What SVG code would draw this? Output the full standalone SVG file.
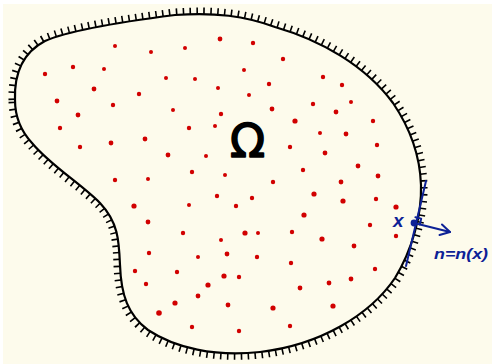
<svg xmlns="http://www.w3.org/2000/svg" width="492" height="364" viewBox="0 0 492 364">
<style>
.pt{fill:#d10000}
.blue{stroke:#0d2196;fill:none;stroke-width:2;stroke-linecap:round;stroke-linejoin:round}
</style>
<defs>
<path id="bd" d="M 15,100 C 14,72 24,52 45,41 C 70,30 120,22 175,15 C 215,12 245,16 275,27 C 320,40 365,65 393,103 C 410,128 420,155 421,185 C 422,215 412,250 395,278 C 370,315 320,345 260,352 C 215,357 175,348 148,330 C 128,315 121,295 120,265 C 119,240 118,222 100,203 C 80,183 50,165 32,143 C 20,130 15,115 15,100 Z"/>
</defs>
<rect x="0" y="0" width="492" height="364" fill="#ffffff"/>
<rect x="3" y="4" width="489" height="360" fill="#fdfbec"/>
<g id="domain">
<use href="#bd" fill="none" stroke="#000" stroke-width="13" stroke-dasharray="1.6 5.2"/>
<use href="#bd" fill="#fdfbec" stroke="none"/>
<use href="#bd" fill="none" stroke="#000" stroke-width="2.2"/>
</g>
<g id="points">
<circle class="pt" cx="115" cy="46" r="2"/><circle class="pt" cx="151" cy="52" r="2"/><circle class="pt" cx="185" cy="48" r="2"/><circle class="pt" cx="220" cy="39" r="2.4"/><circle class="pt" cx="244" cy="70" r="2"/><circle class="pt" cx="45" cy="74" r="2.2"/><circle class="pt" cx="73" cy="67" r="2.2"/><circle class="pt" cx="104" cy="69" r="2"/><circle class="pt" cx="166" cy="78" r="2"/><circle class="pt" cx="195" cy="79" r="2"/><circle class="pt" cx="94" cy="89" r="2.4"/><circle class="pt" cx="139" cy="94" r="2.2"/><circle class="pt" cx="218" cy="88" r="2"/><circle class="pt" cx="249" cy="95" r="2"/><circle class="pt" cx="57" cy="101" r="2.4"/><circle class="pt" cx="113" cy="105" r="2.2"/><circle class="pt" cx="173" cy="110" r="2"/><circle class="pt" cx="221" cy="114" r="2.2"/><circle class="pt" cx="78" cy="115" r="2.4"/><circle class="pt" cx="60" cy="128" r="2.2"/><circle class="pt" cx="189" cy="128" r="2.2"/><circle class="pt" cx="215" cy="126" r="2"/><circle class="pt" cx="145" cy="139" r="2.4"/><circle class="pt" cx="111" cy="143" r="2.4"/><circle class="pt" cx="80" cy="147" r="2.2"/><circle class="pt" cx="168" cy="155" r="2.4"/><circle class="pt" cx="206" cy="156" r="2"/><circle class="pt" cx="192" cy="172" r="2.2"/><circle class="pt" cx="225" cy="175" r="2"/><circle class="pt" cx="115" cy="180" r="2.2"/><circle class="pt" cx="148" cy="179" r="2"/>
<circle class="pt" cx="253" cy="43" r="2.2"/><circle class="pt" cx="283" cy="59" r="2.2"/><circle class="pt" cx="323" cy="77" r="2.2"/><circle class="pt" cx="342" cy="85" r="2.2"/><circle class="pt" cx="269" cy="84" r="2.2"/><circle class="pt" cx="313" cy="104" r="2.2"/><circle class="pt" cx="272" cy="109" r="2.4"/><circle class="pt" cx="351" cy="102" r="2"/><circle class="pt" cx="336" cy="112" r="2.4"/><circle class="pt" cx="295" cy="121" r="2.6"/><circle class="pt" cx="373" cy="121" r="2.2"/><circle class="pt" cx="320" cy="133" r="2"/><circle class="pt" cx="346" cy="134" r="2.4"/><circle class="pt" cx="290" cy="147" r="2.2"/><circle class="pt" cx="325" cy="153" r="2.4"/><circle class="pt" cx="377" cy="145" r="2.2"/><circle class="pt" cx="358" cy="166" r="2.4"/><circle class="pt" cx="303" cy="170" r="2.2"/><circle class="pt" cx="378" cy="176" r="2.4"/>
<circle class="pt" cx="217" cy="196" r="2.2"/><circle class="pt" cx="236" cy="206" r="2.2"/><circle class="pt" cx="134" cy="206" r="2.6"/><circle class="pt" cx="189" cy="205" r="2"/><circle class="pt" cx="148" cy="222" r="2.4"/><circle class="pt" cx="183" cy="233" r="2.2"/><circle class="pt" cx="245" cy="233" r="2.6"/><circle class="pt" cx="221" cy="240" r="2"/><circle class="pt" cx="149" cy="253" r="2.2"/><circle class="pt" cx="227" cy="254" r="2.4"/><circle class="pt" cx="198" cy="257" r="2"/><circle class="pt" cx="135" cy="271" r="2.2"/><circle class="pt" cx="177" cy="272" r="2.2"/><circle class="pt" cx="224" cy="276" r="2.6"/><circle class="pt" cx="239" cy="277" r="2.2"/><circle class="pt" cx="146" cy="284" r="2.2"/><circle class="pt" cx="208" cy="285" r="2.6"/><circle class="pt" cx="198" cy="296" r="2.4"/><circle class="pt" cx="175" cy="303" r="2.6"/><circle class="pt" cx="228" cy="305" r="2.4"/><circle class="pt" cx="159" cy="313" r="2.8"/><circle class="pt" cx="192" cy="327" r="2.2"/><circle class="pt" cx="239" cy="331" r="2.2"/>
<circle class="pt" cx="273" cy="182" r="2.2"/><circle class="pt" cx="341" cy="182" r="2.4"/><circle class="pt" cx="314" cy="194" r="2.6"/><circle class="pt" cx="376" cy="199" r="2.2"/><circle class="pt" cx="252" cy="198" r="2.2"/><circle class="pt" cx="343" cy="201" r="2.6"/><circle class="pt" cx="396" cy="207" r="2.6"/><circle class="pt" cx="304" cy="215" r="2.6"/><circle class="pt" cx="370" cy="225" r="2.2"/><circle class="pt" cx="258" cy="233" r="2"/><circle class="pt" cx="292" cy="232" r="2.2"/><circle class="pt" cx="396" cy="236" r="2.2"/><circle class="pt" cx="322" cy="239" r="2.6"/><circle class="pt" cx="354" cy="246" r="2.4"/><circle class="pt" cx="257" cy="257" r="2.2"/><circle class="pt" cx="291" cy="263" r="2.2"/><circle class="pt" cx="375" cy="269" r="2.2"/><circle class="pt" cx="351" cy="279" r="2.4"/><circle class="pt" cx="329" cy="283" r="2.4"/><circle class="pt" cx="300" cy="288" r="2.4"/><circle class="pt" cx="333" cy="306" r="2.6"/><circle class="pt" cx="273" cy="308" r="2.6"/><circle class="pt" cx="290" cy="326" r="2.2"/>
</g>
<g id="omega">
<text x="247.5" y="157" font-family="DejaVu Sans, sans-serif" font-size="46" text-anchor="middle" fill="#000" stroke="#000" stroke-width="1.6" stroke-linejoin="round">Ω</text>
</g>
<g id="normal">
<line class="blue" x1="426" y1="181" x2="406" y2="266"/>
<polyline class="blue" stroke-width="1.6" points="415.4,217.2 421.2,218.6 419.8,224.5"/>
<line class="blue" x1="414" y1="223" x2="450" y2="232"/>
<polyline class="blue" points="442,224.5 450,232 439.5,235"/>
<circle cx="414" cy="223" r="3.4" fill="#0d2196"/>
<text x="393" y="226.5" font-family="Liberation Sans, sans-serif" font-size="19" font-weight="bold" font-style="italic" fill="#0d2196">x</text>
<text x="434" y="259" font-family="Liberation Sans, sans-serif" font-size="14" font-weight="bold" font-style="italic" fill="#0d2196" textLength="54" lengthAdjust="spacingAndGlyphs">n=n(x)</text>
</g>
</svg>
